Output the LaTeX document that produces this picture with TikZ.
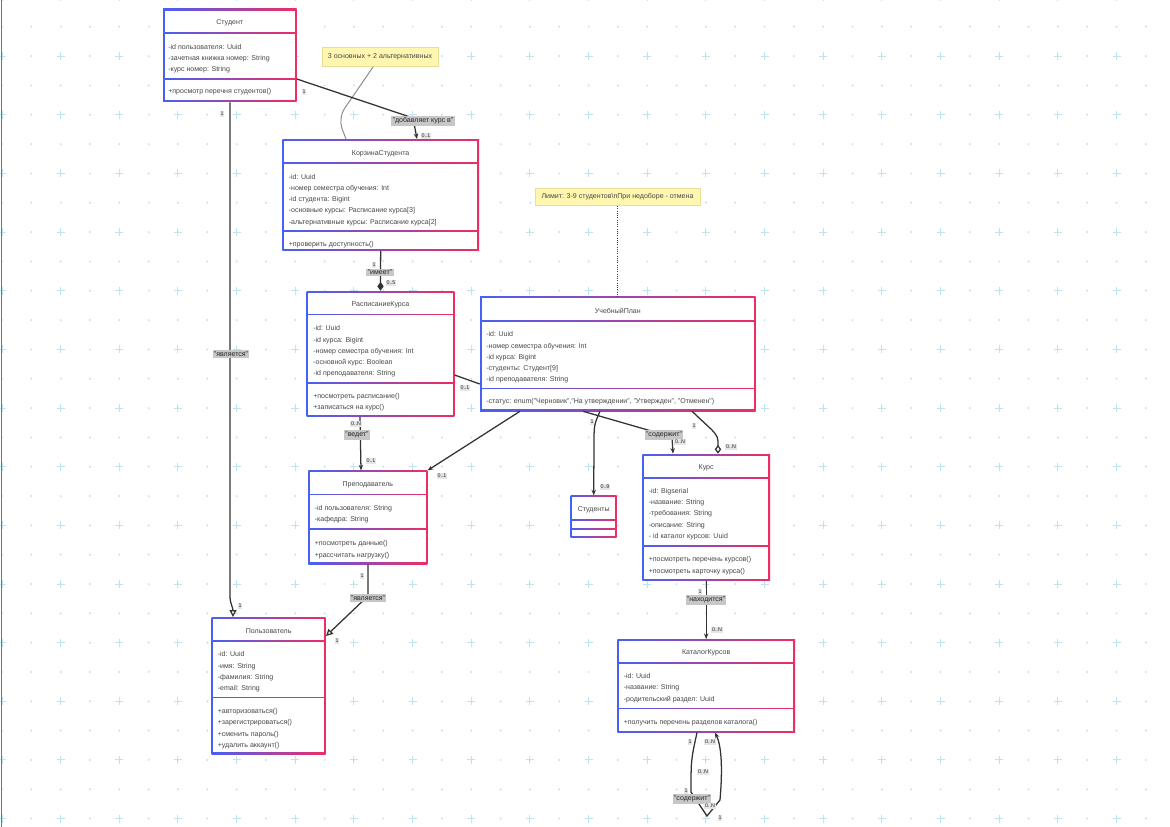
\documentclass[tikz,border=0pt]{standalone}
\usepackage{fontspec}
\setmainfont{Liberation Sans}
\usetikzlibrary{arrows.meta}
\usetikzlibrary{fit}
\usepackage{xcolor}

\definecolor{umlblue}{RGB}{70,96,246}
\definecolor{umlpink}{RGB}{240,44,98}
\definecolor{gridcyan}{RGB}{190,229,238}
\definecolor{notefill}{RGB}{255,246,176}
\definecolor{notedraw}{RGB}{232,222,150}

% class box: name, x1, y1, x2, y2, header line, methods line, title
\newcommand{\classbox}[8]{%
  \shade[left color=umlblue, right color=umlpink] (#2,#3) rectangle (#4,#5);
  \fill[white] (#2+1.6,#3+1.6) rectangle (#4-1.6,#6-0.8);
  \fill[white] (#2+1.6,#6+0.8) rectangle (#4-1.6,#7-0.8);
  \fill[white] (#2+1.6,#7+0.8) rectangle (#4-1.6,#5-1.6);
  \node[fit={(#2,#3)(#4,#5)}, inner sep=0pt] (#1) {};
  \node (#1-t) at ({(#2+#4)/2},{(#3+#6)/2+2}) {#8};
}

\begin{document}
\begin{tikzpicture}[x=0.025cm, y=-0.025cm,
  every node/.style={font=\fontsize{5}{8}\selectfont, text=black!72},
  cattr/.style={anchor=west, align=left, inner sep=0pt, yshift=-0.04cm},
  lbl/.style={fill=black!22, inner sep=1pt, text=black!85},
  mult/.style={font=\fontsize{3.8}{4}\selectfont, inner sep=0.6pt, fill=black!10, text=black!85},
  note/.style={fill=notefill, draw=notedraw, line width=0.6pt, inner sep=0pt},
  assoc/.style={draw=black!80, line width=0.9pt, -{Stealth[length=1.4mm,width=1.1mm]}},
  inherit/.style={draw=black!80, line width=0.9pt, -{Triangle[open,length=1.7mm,width=1.7mm]}},
  compo/.style={draw=black!80, line width=0.9pt, -{Diamond[length=2.2mm,width=1.6mm]}},
  aggr/.style={draw=black!80, line width=0.9pt, -{Diamond[open,length=2.2mm,width=1.6mm]}},
  link/.style={draw=black!80, line width=0.9pt}]

\useasboundingbox (0,0) rectangle (1170,827);
\fill[white] (0,0) rectangle (1170,827);

% background dots
\foreach \i in {0,...,40}
  \foreach \j in {0,...,29}
    \fill[gridcyan] ({2+29.33*\i},{-2.6+29.33*\j}) circle[radius=1.1];
\foreach \i in {0,2,...,40}
  \foreach \j in {0,2,...,28}
    \draw[gridcyan, line width=0.7pt] ({2+29.33*\i-4},{-2.6+29.33*\j}) -- ++(8,0)
      ({2+29.33*\i},{-2.6+29.33*\j-4}) -- ++(0,8);

\draw[black!55, line width=0.9pt] (1.5,0) -- (1.5,827);

% classes
\classbox{student}{163}{9}{296.5}{102}{33.3}{79}{Студент}
\node[cattr] (student-a) at (168,57.2) {-id пользователя: Uuid\\-зачетная книжка номер: String\\-курс номер: String};
\node[cattr] (student-m) at (168,90.5) {+просмотр перечня студентов()};

\classbox{korz}{282.3}{139.3}{479}{250.7}{163.3}{230.7}{КорзинаСтудента}
\node[cattr] (korz-a) at (288.5,198.3) {-id: Uuid\\-номер семестра обучения: Int\\-id студента: Bigint\\-основные курсы: Расписание курса[3]\\-альтернативные курсы: Расписание курса[2]};
\node[cattr] (korz-m) at (288.5,243.3) {+проверить доступность()};

\classbox{rasp}{306.7}{291}{454.3}{416.7}{314.3}{382.7}{РасписаниеКурса}
\node[cattr] (rasp-a) at (313,350) {-id: Uuid\\-id курса: Bigint\\-номер семестра обучения: Int\\-основной курс: Boolean\\-id преподавателя: String};
\node[cattr] (rasp-m) at (313,400.5) {+посмотреть расписание()\\+записаться на курс()};

\classbox{plan}{480}{296.7}{755.7}{411}{320.7}{388.3}{УчебныйПлан}
\node[cattr] (plan-a) at (486,356) {-id: Uuid\\-номер семестра обучения: Int\\-id курса: Bigint\\-студенты: Студент[9]\\-id преподавателя: String};
\node[cattr] (plan-m) at (486,400) {-статус: enum("Черновик","На утверждении", "Утвержден", "Отменен")};

\classbox{prep}{308.3}{470.7}{427.3}{564}{494.3}{529}{Преподаватель}
\node[cattr] (prep-a) at (314.5,512.3) {-id пользователя: String\\-кафедра: String};
\node[cattr] (prep-m) at (314.5,548) {+посмотреть данные()\\+рассчитать нагрузку()};

\classbox{students}{570.7}{495.7}{616.7}{537.7}{520}{529}{Студенты}

\classbox{course}{642.3}{454}{770}{580.7}{477.7}{545.7}{Курс}
\node[cattr] (course-a) at (648.5,512.5) {-id: Bigserial\\-название: String\\-требования: String\\-описание: String\\- id каталог курсов: Uuid};
\node[cattr] (course-m) at (648.5,564) {+посмотреть перечень курсов()\\+посмотреть карточку курса()};

\classbox{user}{211.7}{617.3}{325.7}{754}{641}{697.3}{Пользователь}
\node[cattr] (user-a) at (217.5,670.3) {-id: Uuid\\-имя: String\\-фамилия: String\\-email: String};
\node[cattr] (user-m) at (217.5,727) {+авторизоваться()\\+зарегистрироваться()\\+сменить пароль()\\+удалить аккаунт()};

\classbox{catalog}{617.3}{639.3}{795}{732.3}{662.7}{708.3}{КаталогКурсов}
\node[cattr] (catalog-a) at (623.5,686.5) {-id: Uuid\\-название: String\\-родительский раздел: Uuid};
\node[cattr] (catalog-m) at (623.5,721) {+получить перечень разделов каталога()};

% notes
\node[note, minimum width=2.9cm, minimum height=0.47cm] (note1) at (380,57.2) {3 основных + 2 альтернативных};
\node[note, minimum width=4.12cm, minimum height=0.44cm] (note2) at (617.5,197) {Лимит: 3-9 студентов\textbackslash nПри недоборе - отмена};
\draw[black!45, line width=0.7pt, rounded corners=8] (note1.south -| 373,0) -- (338,118) -- (korz.north -| 346,0);
\draw[black!75, line width=0.6pt, densely dotted] (note2.south) -- (plan.north -| note2.south);

% connectors
\draw[assoc] (student.east |- 0,79) -- (413,118) -- (korz.north -| 417,0);
\draw[compo] (korz.south) -- (rasp.north);
\draw[link] (rasp.east |- 0,375) -- (plan.west |- 0,384);
\draw[assoc] (rasp.south -| 360,0) -- (prep.north -| 361,0);
\draw[assoc] (plan.south -| 520,0) -- (prep.north east);
\draw[inherit] (prep.south -| 368,0) -- (368,596) -- (user.east |- 0,636);
\draw[inherit] (student.south -| 230,0) -- (230,596) .. controls (230,604) and (233,607) .. (user.north -| 233,0);
\draw[assoc] (plan.south -| 600,0) .. controls (594,425) .. (594,445) -- (students.north);
\draw[assoc] (plan.south -| 583,0) -- (672,437) -- (course.north -| 673,0);
\draw[aggr] (plan.south -| 692,0) -- (712,430) .. controls (718,437) .. (course.north -| 718,0);
\draw[assoc] (course.south) -- (catalog.north);
\draw[assoc] (catalog.south -| 697,0) .. controls (691,760) .. (691,792) -- (707,816) -- (720,800)
  .. controls (723,765) and (721,745) .. (catalog.south -| 715,0);

% labels
\node[lbl] (l-adds) at (423,121) {"добавляет курс в"};
\node[lbl] (l-has) at (380,272.5) {"имеет"};
\node[lbl] (l-leads) at (357,435) {"ведет"};
\node[lbl] (l-isp) at (368,598) {"является"};
\node[lbl] (l-iss) at (231,354) {"является"};
\node[lbl] (l-cont) at (664,435) {"содержит"};
\node[lbl] (l-loc) at (706,600) {"находится"};
\node[lbl] (l-sub) at (692,799) {"содержит"};

% multiplicities
\node[mult] (m1) at (304,92) {1};
\node[mult] (m2) at (426,136) {0..1};
\node[mult] (m3) at (374,265) {1};
\node[mult] (m4) at (391,283) {0..5};
\node[mult] (m5) at (465,388) {0..1};
\node[mult] (m6) at (356,424) {0..N};
\node[mult] (m7) at (371,461) {0..1};
\node[mult] (m8) at (442,476) {0..1};
\node[mult] (m9) at (362,576) {1};
\node[mult] (m10) at (337,641) {1};
\node[mult] (m11) at (222,114) {1};
\node[mult] (m12) at (240,606) {1};
\node[mult] (m13) at (592,422) {1};
\node[mult] (m14) at (605,487) {0..9};
\node[mult] (m15) at (680,442) {0..N};
\node[mult] (m16) at (694,426) {1};
\node[mult] (m17) at (731,447) {0..N};
\node[mult] (m18) at (700,592) {1};
\node[mult] (m19) at (717,630) {0..N};
\node[mult] (m20) at (690,742) {1};
\node[mult] (m21) at (710,742) {0..N};
\node[mult] (m22) at (703,772) {0..N};
\node[mult] (m23) at (686,791) {1};
\node[mult] (m24) at (710,806) {0..N};
\node[mult] (m25) at (720,818) {1};

\end{tikzpicture}
\end{document}
